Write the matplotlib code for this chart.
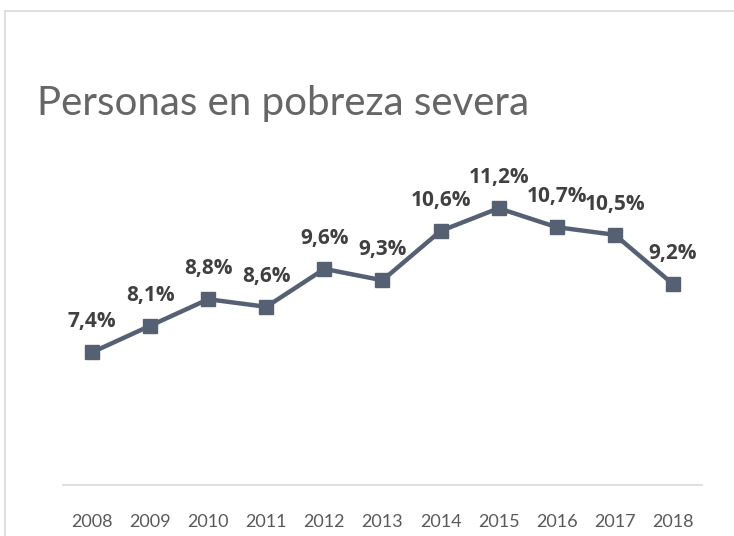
import matplotlib.pyplot as plt
from matplotlib.lines import Line2D

years = ["2008", "2009", "2010", "2011", "2012", "2013", "2014", "2015", "2016", "2017", "2018"]
pobreza_severa = [7.4, 8.1, 8.8, 8.6, 9.6, 9.3, 10.6, 11.2, 10.7, 10.5, 9.2]

fig = plt.figure(figsize=(7.34, 5.36), dpi=100)
ax = fig.add_axes([0.0858, 0.0951, 0.8706, 0.6437])

x = list(range(len(years)))
ax.plot(x, pobreza_severa, color='#556072', linewidth=3.2,
        marker='s', markersize=10, markeredgecolor='#556072')

for xi, v in zip(x, pobreza_severa):
    ax.annotate(f"{v:.1f}%".replace(".", ","), (xi, v), xytext=(0, 22),
                textcoords='offset points', ha='center', va='center',
                fontsize=15, fontweight='bold', color='#404040', family='Open Sans')

ax.set_xlim(-0.5, len(years) - 0.5)
ax.set_ylim(3.9, 13)
ax.set_xticks(x)
ax.set_xticklabels(years, fontsize=13, color='#595959', family='Lato')
ax.set_yticks([])
ax.tick_params(axis='x', length=0, pad=21)
for s in ['top', 'right', 'left']:
    ax.spines[s].set_visible(False)
ax.spines['bottom'].set_color('#d9d9d9')
ax.spines['bottom'].set_linewidth(1.2)

# title
fig.text(37 / 734, 1 - 103 / 536, "Personas en pobreza severa", fontsize=29,
         color='#666666', family='Lato', fontweight='normal', va='center', ha='left')

# chart frame (top and left edges visible)
fig.add_artist(Line2D([5 / 734, 1], [1 - 11 / 536, 1 - 11 / 536], color='#d9d9d9', linewidth=1.2))
fig.add_artist(Line2D([5 / 734, 5 / 734], [0, 1 - 11 / 536], color='#d9d9d9', linewidth=1.2))

fig.savefig("out.png", dpi=100)
